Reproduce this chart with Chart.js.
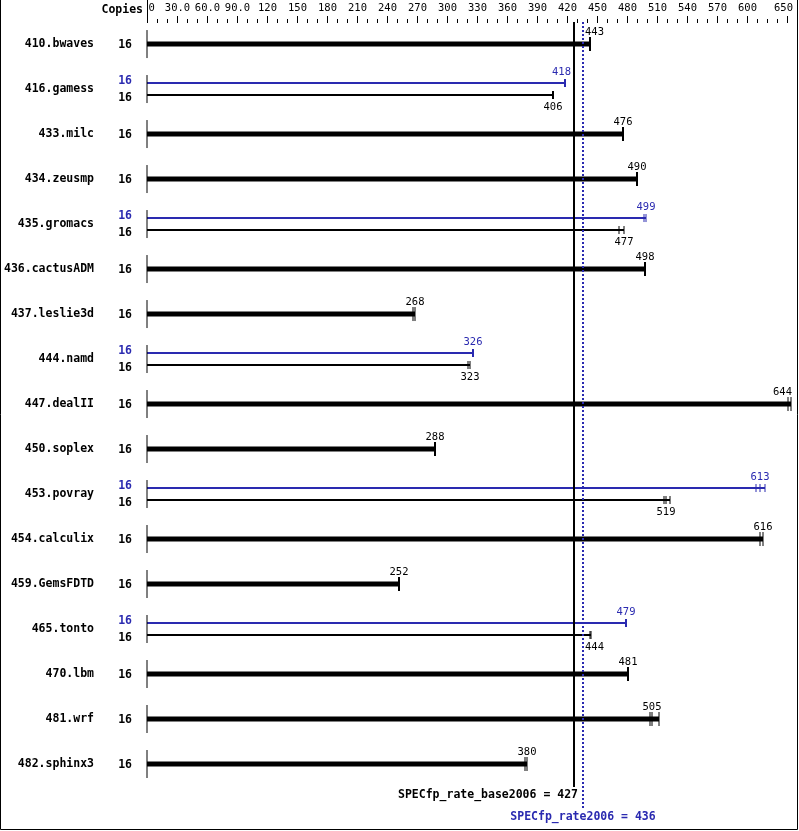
<!DOCTYPE html>
<html>
<head>
<meta charset="utf-8">
<title>SPECfp_rate2006</title>
<script src="https://cdn.jsdelivr.net/npm/chart.js@4"></script>
<style>
  body { margin: 0; background: #fff; }
  #wrap { width: 799px; height: 831px; }
</style>
</head>
<body>
<div id="wrap"><canvas id="chart" width="799" height="831"></canvas></div>
<script>
// Benchmarks, top to bottom
const benchmarks = ['410.bwaves', '416.gamess', '433.milc', '434.zeusmp', '435.gromacs',
  '436.cactusADM', '437.leslie3d', '444.namd', '447.dealII', '450.soplex', '453.povray',
  '454.calculix', '459.GemsFDTD', '465.tonto', '470.lbm', '481.wrf', '482.sphinx3'];

const baseCopies = [16, 16, 16, 16, 16, 16, 16, 16, 16, 16, 16, 16, 16, 16, 16, 16, 16];
const peakCopies = [null, 16, null, null, 16, null, null, 16, null, null, 16, null, null, 16, null, null, null];

// median ratios (the printed numbers)
const baseValues = [443, 406, 476, 490, 477, 498, 268, 323, 644, 288, 519, 616, 252, 444, 481, 505, 380];
const peakValues = [null, 418, null, null, 499, null, null, 326, null, null, 613, null, null, 479, null, null, null];

// individual run results (the little end ticks)
const baseRuns = [[443], [406], [476], [490], [472, 477], [498], [266, 268], [321, 323], [641, 644], [288],
  [517, 519, 523], [613, 616], [252], [443, 444], [481], [503, 505, 512], [378, 380]];
const peakRuns = [null, [418], null, null, [497, 499], null, null, [326], null, null,
  [609, 613, 618], null, null, [479], null, null, null];

// top axis
const tickValues = [0, 30, 60, 90, 120, 150, 180, 210, 240, 270, 300, 330, 360, 390, 420, 450,
  480, 510, 540, 570, 600, 650];
const tickLabels = ['0', '30.0', '60.0', '90.0', '120', '150', '180', '210', '240', '270', '300',
  '330', '360', '390', '420', '450', '480', '510', '540', '570', '600', '650'];
const minorStep = 10;

const baseScore = 427;
const peakScore = 436;
const baseScoreLabel = 'SPECfp_rate_base2006 = 427';
const peakScoreLabel = 'SPECfp_rate2006 = 436';

const BLUE = '#2a2ab0';
const BLACK = '#000';
const MONO = '"DejaVu Sans Mono", monospace';
const PAIR_OFF = 6 / 45;  // y units (one row = 45px)

// Build datasets
const datasets = [];

// reference lines on top
datasets.push({
  type: 'line', order: 0, clip: false,
  data: [{ x: baseScore, y: -0.49 }, { x: baseScore, y: 16.51 }],
  borderColor: BLACK, borderWidth: 2, pointRadius: 0
});
datasets.push({
  type: 'line', order: 0, clip: false,
  data: [{ x: peakScore, y: -0.49 }, { x: peakScore, y: 17 }],
  borderColor: BLUE, borderWidth: 2, borderDash: [2, 2], pointRadius: 0
});

// small vertical axis stroke at the start of every row
datasets.push({
  type: 'scatter', order: 1, clip: false,
  data: benchmarks.map((_, i) => ({ x: 0, y: i })),
  pointStyle: 'line', pointRotation: 90, pointRadius: 14,
  pointBorderWidth: 1, pointBorderColor: BLACK
});

function addBar(runs, y, color, width, tickR) {
  datasets.push({
    type: 'line', order: 1, clip: false,
    data: [{ x: 0, y: y }, { x: Math.max(...runs), y: y }],
    borderColor: color, borderWidth: width, pointRadius: 0
  });
  datasets.push({
    type: 'scatter', order: 1, clip: false,
    data: runs.map(v => ({ x: v, y: y })),
    pointStyle: 'line', pointRotation: 90, pointRadius: tickR,
    pointBorderWidth: runs.length === 1 ? 2 : 1, pointBorderColor: color
  });
}

benchmarks.forEach((name, i) => {
  if (peakRuns[i]) {
    addBar(peakRuns[i], i - PAIR_OFF, BLUE, 2, 4);
    addBar(baseRuns[i], i + PAIR_OFF, BLACK, 2, 4);
  } else {
    addBar(baseRuns[i], i, BLACK, 5, 7);
  }
});

// Text, axis ticks and frame
const decorations = {
  id: 'decorations',
  afterDraw(chart) {
    const ctx = chart.ctx;
    const xs = chart.scales.x;
    const ys = chart.scales.y;
    const area = chart.chartArea;
    ctx.save();

    // top axis
    ctx.strokeStyle = BLACK;
    ctx.lineWidth = 1;
    const x0 = Math.round(xs.getPixelForValue(0)) + 0.5;
    ctx.beginPath();
    ctx.moveTo(x0, 0);
    ctx.lineTo(x0, area.top);
    ctx.stroke();
    const lastX = area.right - 10;
    for (let v = minorStep; v < tickValues[tickValues.length - 1]; v += minorStep) {
      const px = Math.round(xs.getPixelForValue(v)) + 0.5;
      if (px > lastX) break;
      ctx.beginPath();
      ctx.moveTo(px, area.top - 3);
      ctx.lineTo(px, area.top + 1);
      ctx.stroke();
    }
    ctx.font = '10.5px ' + MONO;
    ctx.fillStyle = BLACK;
    ctx.textBaseline = 'middle';
    tickValues.forEach((v, k) => {
      const px = Math.min(Math.round(xs.getPixelForValue(v)), lastX) + 0.5;
      ctx.beginPath();
      ctx.moveTo(px, area.top - 6);
      ctx.lineTo(px, area.top + 1);
      ctx.stroke();
      const w = ctx.measureText(tickLabels[k]).width;
      let l = px - w / 2;
      if (k === 0) l = px + 1;
      if (l + w > area.right - 4) l = area.right - 4 - w;
      ctx.textAlign = 'left';
      ctx.fillText(tickLabels[k], l, 8);
    });

    // header
    ctx.font = 'bold 11.5px ' + MONO;
    ctx.textAlign = 'right';
    ctx.fillText('Copies', 143, 10);

    const rowPx = y => ys.getPixelForValue(y);
    const ref1 = xs.getPixelForValue(baseScore);
    const ref2 = xs.getPixelForValue(peakScore);

    function valueLabel(text, value, y, color) {
      ctx.font = '10.5px ' + MONO;
      ctx.fillStyle = color;
      ctx.textAlign = 'left';
      const w = ctx.measureText(text).width;
      const c = xs.getPixelForValue(value);
      let l = c - w / 2;
      if (l + w > area.right - 5) l = area.right - 5 - w;
      if (l < ref2 + 2 && l + w > ref1 - 2) {
        const leftShift = (l + w) - (ref1 - 3);
        const rightShift = (ref2 + 2) - l;
        l = leftShift < rightShift ? ref1 - 3 - w : ref2 + 2;
      }
      ctx.fillText(text, l, y);
    }

    benchmarks.forEach((name, i) => {
      const cy = rowPx(i);
      ctx.font = 'bold 11.5px ' + MONO;
      ctx.fillStyle = BLACK;
      ctx.textAlign = 'right';
      ctx.textBaseline = 'middle';
      ctx.fillText(name, 94, cy);
      if (peakValues[i] != null) {
        const py = rowPx(i - PAIR_OFF);
        const by = rowPx(i + PAIR_OFF);
        ctx.fillStyle = BLUE;
        ctx.fillText(String(peakCopies[i]), 132, py - 2);
        ctx.fillStyle = BLACK;
        ctx.fillText(String(baseCopies[i]), 132, by + 3);
        valueLabel(String(peakValues[i]), peakValues[i], py - 11, BLUE);
        valueLabel(String(baseValues[i]), baseValues[i], by + 12, BLACK);
      } else {
        ctx.fillText(String(baseCopies[i]), 132, cy + 1);
        valueLabel(String(baseValues[i]), baseValues[i], cy - 12, BLACK);
      }
    });

    // score captions
    ctx.font = 'bold 11.5px ' + MONO;
    ctx.textBaseline = 'middle';
    ctx.fillStyle = BLACK;
    ctx.textAlign = 'right';
    ctx.fillText(baseScoreLabel, ref1 + 4, 795);
    ctx.fillStyle = BLUE;
    ctx.textAlign = 'center';
    ctx.fillText(peakScoreLabel, ref2, 817);

    // frame
    ctx.strokeStyle = BLACK;
    ctx.lineWidth = 1;
    ctx.beginPath();
    ctx.moveTo(0.5, 0);
    ctx.lineTo(0.5, 829.5);
    ctx.lineTo(797.5, 829.5);
    ctx.lineTo(797.5, 0);
    ctx.stroke();
    ctx.restore();
  }
};

new Chart(document.getElementById('chart'), {
  type: 'line',
  data: { datasets: datasets },
  options: {
    responsive: false,
    animation: false,
    devicePixelRatio: 1,
    layout: { autoPadding: false, padding: { left: 147, right: 2, top: 22, bottom: 22 } },
    scales: {
      x: { type: 'linear', min: 0, max: 650, display: false },
      y: { type: 'linear', min: -0.49, max: 17, reverse: true, display: false }
    },
    plugins: { legend: { display: false }, tooltip: { enabled: false } }
  },
  plugins: [decorations]
});
</script>
</body>
</html>
